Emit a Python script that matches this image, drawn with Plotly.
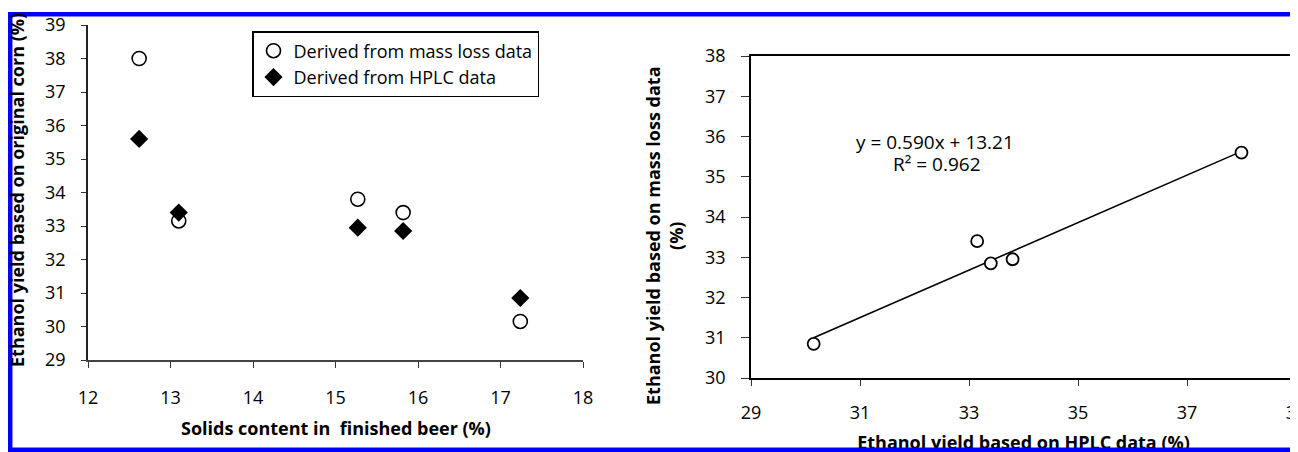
import numpy as np
import plotly.graph_objects as go

# ---- data ----
solids = [12.62, 13.10, 15.27, 15.82, 17.24]          # solids content in finished beer (%)
yield_mass_loss = [38.00, 33.15, 33.80, 33.40, 30.15]  # ethanol yield from mass loss data (%)
yield_hplc = [35.60, 33.40, 32.95, 32.85, 30.85]       # ethanol yield from HPLC data (%)

fit_slope = 0.590
fit_intercept = 13.21
fit_r2 = 0.962

left_xticks = [12, 13, 14, 15, 16, 17, 18]
left_yticks = [29, 30, 31, 32, 33, 34, 35, 36, 37, 38, 39]
right_xticks = [29, 31, 33, 35, 37, 39]
right_yticks = [30, 31, 32, 33, 34, 35, 36, 37, 38]

# the page body has an 8px margin, so the figure fills the rest of the window
OFF = 8
W, H = 1298 - OFF, 452 - OFF
TICKFONT = dict(family="Open Sans", size=18, color="black")
TITLEFONT = dict(family="Open Sans", size=18, color="black", weight="bold")

# window-pixel layout of the two plot areas
L_X0, L_X1, L_Y0, L_Y1 = 88, 583, 360, 25
R_X0, R_X1, R_Y0, R_Y1 = 751, 1296, 378, 56
# band (window pixels) holding the cropped right x-axis title
BAND_TOP, BAND_BOT = 436, 456


def px(x):
    return (x - OFF) / W


def py(y):
    return 1 - (y - OFF) / H


fig = go.Figure()

fig.add_trace(go.Scatter(
    x=solids, y=yield_mass_loss, mode="markers", name="Derived from mass loss data",
    marker=dict(symbol="circle-open", size=14, color="black", line=dict(width=1.6, color="black")),
    xaxis="x", yaxis="y"))
fig.add_trace(go.Scatter(
    x=solids, y=yield_hplc, mode="markers", name="Derived from HPLC data",
    marker=dict(symbol="diamond", size=14, color="black"),
    xaxis="x", yaxis="y"))

# trendline on right chart
fx = np.array([min(yield_mass_loss), max(yield_mass_loss)])
fy = fit_slope * fx + fit_intercept
fig.add_trace(go.Scatter(x=fx, y=fy, mode="lines", line=dict(color="black", width=1.6),
                         showlegend=False, xaxis="x2", yaxis="y2", hoverinfo="skip"))
fig.add_trace(go.Scatter(
    x=yield_mass_loss, y=yield_hplc, mode="markers", showlegend=False,
    marker=dict(symbol="circle", size=12, color="white", line=dict(width=1.8, color="black")),
    xaxis="x2", yaxis="y2"))

# right x-axis title, drawn in the plot layer (hidden helper axes) so the blue
# frame covers its lower half as in the original screenshot
fig.add_trace(go.Scatter(
    x=[0.5], y=[0.5], mode="text", text=["<b>Ethanol yield based on HPLC data (%)</b>"],
    textposition="middle center", textfont=dict(family="Open Sans", size=18, color="black"),
    cliponaxis=False, showlegend=False, hoverinfo="skip", xaxis="x3", yaxis="y3"))

axis_common = dict(showgrid=False, zeroline=False, ticks="outside", tickcolor="#333",
                   tickfont=TICKFONT, showline=True, ticklabeloverflow="allow")

fig.update_layout(
    width=W, height=H,
    margin=dict(l=0, r=0, t=0, b=0, autoexpand=False),
    paper_bgcolor="white", plot_bgcolor="rgba(0,0,0,0)",
    xaxis=dict(domain=[px(L_X0), px(L_X1)], range=[12, 18], tickvals=left_xticks,
               linecolor="#444", linewidth=1.5, ticklen=6, anchor="y",
               ticklabelstandoff=15, **axis_common),
    yaxis=dict(domain=[py(L_Y0), py(L_Y1)], range=[29, 39], tickvals=left_yticks,
               linecolor="#222", linewidth=1.5, ticklen=5, anchor="x",
               ticklabelstandoff=12, **axis_common),
    xaxis2=dict(domain=[px(R_X0), px(R_X1)], range=[right_xticks[0], right_xticks[-1]],
                tickvals=right_xticks,
                linecolor="black", linewidth=1.6, ticklen=6, anchor="y2", mirror=True,
                ticklabelstandoff=12, **axis_common),
    yaxis2=dict(domain=[py(R_Y0), py(R_Y1)], range=[right_yticks[0], right_yticks[-1]],
                tickvals=right_yticks,
                linecolor="black", linewidth=1.6, ticklen=8, anchor="x2", mirror=True,
                ticklabelstandoff=12, **axis_common),
    xaxis3=dict(domain=[px(R_X0), px(R_X1)], range=[0, 1], visible=False, anchor="y3"),
    yaxis3=dict(domain=[max(py(BAND_BOT), 0), py(BAND_TOP)], range=[0, 1], visible=False,
                anchor="x3"),
    legend=dict(x=px(252), y=py(31), xanchor="left", yanchor="top",
                bordercolor="black", borderwidth=1.5, bgcolor="white",
                font=dict(family="Open Sans", size=18, color="black"),
                itemsizing="trace", tracegroupgap=0),
    showlegend=True,
)

annos = [
    dict(text="Solids content in  finished beer (%)", x=px(336), y=py(428),
         xanchor="center", yanchor="middle", font=TITLEFONT),
    dict(text="Ethanol yield based on original corn (%)", x=px(17), y=py(190),
         xanchor="center", yanchor="middle", textangle=-90, font=TITLEFONT),
    dict(text="Ethanol yield based on mass loss data<br>(%)", x=px(664), y=py(236),
         xanchor="center", yanchor="middle", textangle=-90, font=TITLEFONT),
    dict(text=f"y = {fit_slope:.3f}x + {fit_intercept:.2f}", x=px(935), y=py(142),
         xanchor="center", yanchor="middle",
         font=dict(family="Open Sans", size=19, color="black")),
    dict(text=f"R\u00b2 = {fit_r2:.3f}", x=px(937), y=py(164),
         xanchor="center", yanchor="middle",
         font=dict(family="Open Sans", size=19, color="black")),
]
for a in annos:
    a.update(xref="paper", yref="paper", showarrow=False)
fig.update_layout(annotations=annos)

# blue frame around the picture
fig.add_shape(type="rect", xref="paper", yref="paper", layer="above",
              x0=px(10.2), x1=1.02, y0=py(449.7), y1=py(14.3),
              line=dict(color="#0000FF", width=4.5), fillcolor="rgba(0,0,0,0)")

fig.write_html("out.html")
